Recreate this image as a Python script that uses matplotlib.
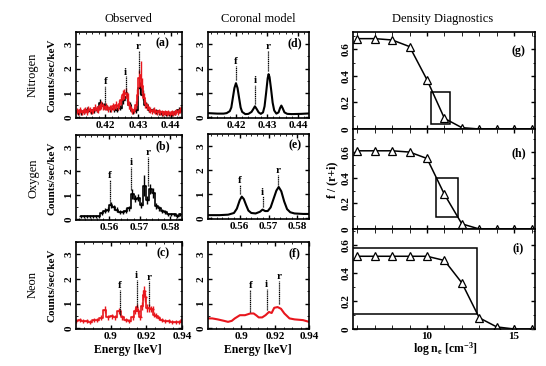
import numpy as np
import matplotlib.pyplot as plt
from matplotlib.ticker import MultipleLocator, FixedLocator, FixedFormatter
from matplotlib.patches import Rectangle

plt.rcParams['font.family'] = ['Liberation Serif', 'DejaVu Serif']
plt.rcParams['mathtext.fontset'] = 'custom'
plt.rcParams['mathtext.rm'] = 'Liberation Serif:bold'
plt.rcParams['mathtext.it'] = 'Liberation Serif:bold'
plt.rcParams['mathtext.bf'] = 'Liberation Serif:bold'
plt.rcParams['xtick.direction'] = 'in'
plt.rcParams['ytick.direction'] = 'in'
plt.rcParams['xtick.top'] = True
plt.rcParams['ytick.right'] = True
plt.rcParams['xtick.major.size'] = 3
plt.rcParams['ytick.major.size'] = 3
plt.rcParams['xtick.minor.size'] = 1.5
plt.rcParams['ytick.minor.size'] = 1.5
plt.rcParams['xtick.major.width'] = 1.0
plt.rcParams['ytick.major.width'] = 1.0
plt.rcParams['axes.linewidth'] = 1.2

RED = '#e8161d'

# ---------------- data ----------------
# Nitrogen observed, black histogram (bin centres 0.4115 + 0.001*k)
n_obs_x0, n_obs_dx = 0.4115, 0.001
n_obs_y = [0.2, 0.2, 0.25, 0.3, 0.25, 0.3, 0.35, 0.6, 0.45, 0.4, 0.35, 0.35, 0.3,
           0.4, 0.7, 0.85, 0.5, 0.25, 0.3, 1.2, 0.9, 0.5, 0.3, 0.3, 0.25, 0.2,
           0.15, 0.15, 0.15, 0.15, 0.2, 0.3, 0.35]
n_obs_err = [0.1, 0.1, 0.1, 0.12, 0.1, 0.12, 0.12, 0.15, 0.12, 0.12, 0.12, 0.12, 0.1,
             0.12, 0.15, 0.18, 0.12, 0.1, 0.12, 0.25, 0.2, 0.12, 0.1, 0.1, 0.1, 0.1,
             0.08, 0.08, 0.08, 0.08, 0.1, 0.12, 0.12]
# Nitrogen observed, red spectrum (bin centres 0.4113 + 0.0005*k)
n_red_x0, n_red_dx = 0.4113, 0.0005
n_red_y = [0.25, 0.2, 0.3, 0.2, 0.25, 0.3, 0.2, 0.35, 0.3, 0.25, 0.3, 0.4, 0.35, 0.3,
           0.45, 0.5, 0.45, 0.4, 0.45, 0.35,
           0.4, 0.35, 0.45, 0.4, 0.5, 0.45, 0.55,
           0.7, 0.9, 0.95, 1.0, 0.8, 0.5, 0.35, 0.25,
           0.3, 0.5, 0.9, 1.6, 1.75, 1.3, 0.8, 0.55,
           0.45, 0.35, 0.3, 0.25, 0.3, 0.25, 0.2, 0.25,
           0.2, 0.2, 0.15, 0.2, 0.15, 0.2, 0.15, 0.2, 0.15, 0.2, 0.25, 0.2, 0.3, 0.35, 0.4, 0.45]
n_red_err = [0.12, 0.1, 0.12, 0.1, 0.12, 0.12, 0.1, 0.12, 0.12, 0.1, 0.12, 0.15, 0.12, 0.12,
             0.15, 0.15, 0.15, 0.12, 0.15, 0.12,
             0.12, 0.12, 0.15, 0.12, 0.15, 0.15, 0.15,
             0.18, 0.2, 0.2, 0.2, 0.18, 0.15, 0.12, 0.1,
             0.12, 0.15, 0.25, 0.35, 0.55, 0.3, 0.2, 0.15,
             0.15, 0.12, 0.12, 0.1, 0.12, 0.1, 0.1, 0.1,
             0.1, 0.1, 0.08, 0.1, 0.08, 0.1, 0.08, 0.1, 0.08, 0.1, 0.1, 0.1, 0.12, 0.12, 0.15, 0.15]

# Oxygen observed, black histogram (bin centres 0.5505 + 0.001*k)
o_obs_x0, o_obs_dx = 0.5505, 0.001
o_obs_y = [0.12, 0.12, 0.12, 0.12, 0.12, 0.12, 0.12, 0.25, 0.35, 0.4, 0.6, 0.5, 0.4,
           0.3, 0.3, 0.35, 0.45, 1.05, 0.85, 0.9, 0.6, 1.4, 0.8, 1.25, 1.1, 0.55,
           0.45, 0.35, 0.3, 0.2, 0.2, 0.2, 0.15, 0.2]
o_obs_err = [0.05, 0.05, 0.05, 0.05, 0.05, 0.05, 0.05, 0.08, 0.1, 0.1, 0.12, 0.1, 0.1,
             0.08, 0.08, 0.1, 0.1, 0.2, 0.15, 0.15, 0.12, 0.45, 0.15, 0.2, 0.2, 0.12,
             0.1, 0.08, 0.08, 0.08, 0.08, 0.08, 0.08, 0.08]

# Neon observed, red spectrum
ne_obs_x = [0.8805, 0.8825, 0.8845, 0.8865, 0.8885, 0.8905, 0.8925, 0.8945, 0.8965, 0.8985,
            0.9005, 0.9025, 0.9045, 0.9065, 0.9085, 0.9105, 0.9125, 0.9135, 0.9145, 0.9155,
            0.9165, 0.9175, 0.9182, 0.9188, 0.9194, 0.9205, 0.9215, 0.9225, 0.9235, 0.9245,
            0.9255, 0.9270, 0.9285, 0.9305, 0.9325, 0.9345, 0.9365, 0.9385, 0.9400]
ne_obs_y = [0.30, 0.32, 0.28, 0.30, 0.27, 0.32, 0.35, 0.42, 0.75, 0.45,
            0.48, 0.45, 0.70, 0.45, 0.35, 0.30, 0.45, 0.70, 0.85, 0.70,
            0.45, 0.90, 1.35, 1.50, 1.25, 0.82, 0.82, 0.80, 0.78, 0.55,
            0.50, 0.40, 0.32, 0.30, 0.28, 0.27, 0.25, 0.27, 0.35]
ne_obs_err = [0.08, 0.08, 0.08, 0.08, 0.08, 0.08, 0.08, 0.1, 0.15, 0.1,
              0.1, 0.1, 0.12, 0.1, 0.08, 0.08, 0.1, 0.12, 0.15, 0.12,
              0.1, 0.15, 0.2, 0.2, 0.2, 0.15, 0.15, 0.12, 0.12, 0.1,
              0.1, 0.08, 0.08, 0.08, 0.08, 0.08, 0.08, 0.08, 0.1]

# Coronal model spectra
n_mod_x = [0.411, 0.414, 0.416, 0.417, 0.418, 0.4185, 0.419, 0.4195, 0.420, 0.4205, 0.421,
           0.4215, 0.422, 0.423, 0.424, 0.425, 0.4255, 0.4261, 0.4267, 0.4273, 0.428,
           0.4287, 0.4292, 0.4297, 0.4302, 0.4305, 0.4308, 0.4313, 0.4318, 0.4323, 0.433,
           0.4337, 0.4342, 0.4346, 0.435, 0.4356, 0.4365, 0.438, 0.441, 0.444]
n_mod_y = [0.17, 0.15, 0.15, 0.17, 0.25, 0.4, 0.8, 1.2, 1.4, 1.2, 0.8,
           0.4, 0.22, 0.13, 0.14, 0.22, 0.32, 0.45, 0.33, 0.2, 0.14,
           0.2, 0.45, 1.0, 1.6, 1.77, 1.65, 1.15, 0.6, 0.28, 0.15,
           0.2, 0.38, 0.48, 0.38, 0.2, 0.14, 0.13, 0.14, 0.16]
o_mod_x = [0.549, 0.553, 0.556, 0.558, 0.559, 0.5600, 0.5607, 0.5614, 0.5622, 0.563,
           0.564, 0.5655, 0.567, 0.5679, 0.5688, 0.5697, 0.5707, 0.5717, 0.5727, 0.5735,
           0.5744, 0.5754, 0.5764, 0.5775, 0.579, 0.582, 0.584]
o_mod_y = [0.13, 0.13, 0.15, 0.22, 0.4, 0.75, 0.9, 0.8, 0.55, 0.32,
           0.22, 0.2, 0.27, 0.36, 0.3, 0.3, 0.45, 0.8, 1.15, 1.3,
           1.12, 0.7, 0.38, 0.25, 0.2, 0.18, 0.18]
ne_mod_x = [0.8790, 0.8830, 0.8862, 0.8900, 0.8923, 0.8945, 0.8963, 0.8993, 0.9023, 0.9054,
            0.9074, 0.9090, 0.9104, 0.9124, 0.9144, 0.9164, 0.9180, 0.9195, 0.9215, 0.9235,
            0.9255, 0.9285, 0.9315, 0.9365, 0.9400]
ne_mod_y = [0.40, 0.40, 0.36, 0.30, 0.26, 0.30, 0.40, 0.53, 0.53, 0.60,
            0.60, 0.52, 0.44, 0.44, 0.53, 0.66, 0.62, 0.83, 0.86, 0.79,
            0.60, 0.40, 0.36, 0.33, 0.26]

# line markers: (name, energy, text height, line top, line bottom)
n_lines_obs = [('f', 0.4200, 1.45, 1.28, 0.5), ('i', 0.4262, 1.85, 1.68, 1.05), ('r', 0.4302, 2.9, 2.73, 1.8)]
o_lines_obs = [('f', 0.5602, 1.8, 1.62, 0.65), ('i', 0.5673, 2.35, 2.18, 1.2), ('r', 0.5728, 2.77, 2.6, 1.4)]
ne_lines_obs = [('f', 0.9051, 1.75, 1.57, 0.55), ('i', 0.9146, 2.14, 1.96, 0.85), ('r', 0.9215, 2.07, 1.9, 0.9)]
n_lines_mod = [('f', 0.4200, 2.3, 2.12, 1.55), ('i', 0.4261, 1.5, 1.32, 0.55), ('r', 0.4302, 2.9, 2.72, 1.9)]
o_lines_mod = [('f', 0.5600, 1.57, 1.4, 1.0), ('i', 0.5679, 1.09, 0.93, 0.45), ('r', 0.5734, 1.98, 1.8, 1.4)]
ne_lines_mod = [('f', 0.9054, 1.72, 1.55, 0.65), ('i', 0.9150, 1.78, 1.6, 0.75), ('r', 0.9222, 2.09, 1.9, 1.0)]

# density diagnostics
log_ne = [6, 7, 8, 9, 10, 11, 12, 13, 14, 15, 16]
ratio_n = [0.68, 0.68, 0.67, 0.62, 0.37, 0.08, 0.01, 0.0, 0.0, 0.0, 0.0]
ratio_o = [0.61, 0.61, 0.61, 0.60, 0.55, 0.27, 0.04, 0.0, 0.0, 0.0, 0.0]
ratio_ne = [0.52, 0.52, 0.52, 0.52, 0.52, 0.49, 0.33, 0.08, 0.015, 0.0, 0.0]
# measured ranges (log ne lo, hi, ratio lo, hi)
box_n = (10.2, 11.3, 0.04, 0.28)
box_o = (10.5, 11.8, 0.09, 0.40)
box_ne = (5.0, 12.85, 0.11, 0.58)

xlim_n = (0.411, 0.4435)
xlim_o = (0.549, 0.584)
xlim_ne = (0.8805, 0.940)
ticks_n = ([0.42, 0.43, 0.44], ['0.42', '0.43', '0.44'])
ticks_o = ([0.56, 0.57, 0.58], ['0.56', '0.57', '0.58'])
ticks_ne = ([0.9, 0.92, 0.94], ['0.9', '0.92', '0.94'])

# ---------------- figure ----------------
fig = plt.figure(figsize=(5.46, 3.66), dpi=100)

W, H = 546.0, 366.0
def add_ax(x0, y0, x1, y1):
    return fig.add_axes([x0 / W, 1 - y1 / H, (x1 - x0) / W, (y1 - y0) / H])

col1 = [add_ax(76, 32, 182, 118), add_ax(76, 135, 182, 220), add_ax(76, 242, 182, 329)]
col2 = [add_ax(208, 32, 309, 118), add_ax(208, 134, 309, 219), add_ax(208, 242, 309, 329)]
col3 = [add_ax(353, 32, 535, 129), add_ax(353, 129, 535, 229), add_ax(353, 229, 535, 329)]


def style_spec(ax, xlim, ticks, xminor, letter, lx):
    ax.set_xlim(xlim)
    ax.set_ylim(-0.03, 3.5)
    ax.xaxis.set_major_locator(FixedLocator(ticks[0]))
    ax.xaxis.set_major_formatter(FixedFormatter(ticks[1]))
    ax.xaxis.set_minor_locator(MultipleLocator(xminor))
    ax.yaxis.set_major_locator(MultipleLocator(1))
    ax.yaxis.set_minor_locator(MultipleLocator(0.5))
    ax.tick_params(labelsize=8, pad=2)
    for lab in ax.get_xticklabels() + ax.get_yticklabels():
        lab.set_fontweight('bold')
    plt.setp(ax.get_yticklabels(), rotation=90, va='center')
    ax.text(lx, 0.87, letter, transform=ax.transAxes, fontsize=8.5, fontweight='bold',
            ha='center', va='center')


def mark_lines(ax, lines):
    for name, e, ty, top, bot in lines:
        ax.plot([e, e], [bot, top], color='k', lw=0.9, ls=(0, (1, 0.5)))
        ax.text(e, ty, name, ha='center', va='center', fontsize=8, fontweight='bold')


def hist(ax, x0, dx, y, err, color, lw=1.2):
    x = x0 + dx * np.arange(len(y))
    ax.step(x, y, where='mid', color=color, lw=lw)
    ax.errorbar(x, y, yerr=err, xerr=dx / 2, fmt='none', ecolor=color, elinewidth=1.0)


# Observed
ax = col1[0]
hist(ax, n_obs_x0, n_obs_dx, n_obs_y, n_obs_err, 'k')
hist(ax, n_red_x0, n_red_dx, n_red_y, n_red_err, RED)
mark_lines(ax, n_lines_obs)
style_spec(ax, xlim_n, ticks_n, 0.002, '(a)', 0.82)

ax = col1[1]
hist(ax, o_obs_x0, o_obs_dx, o_obs_y, o_obs_err, 'k')
mark_lines(ax, o_lines_obs)
style_spec(ax, xlim_o, ticks_o, 0.002, '(b)', 0.82)

ax = col1[2]
ax.step(ne_obs_x, ne_obs_y, where='mid', color=RED, lw=1.2)
ax.errorbar(ne_obs_x, ne_obs_y, yerr=ne_obs_err, xerr=0.0008, fmt='none', ecolor=RED, elinewidth=1.0)
mark_lines(ax, ne_lines_obs)
style_spec(ax, xlim_ne, ticks_ne, 0.005, '(c)', 0.82)

# Coronal model
ax = col2[0]
ax.plot(n_mod_x, n_mod_y, color='k', lw=1.5)
mark_lines(ax, n_lines_mod)
style_spec(ax, xlim_n, ticks_n, 0.002, '(d)', 0.86)

ax = col2[1]
ax.plot(o_mod_x, o_mod_y, color='k', lw=1.5)
mark_lines(ax, o_lines_mod)
style_spec(ax, xlim_o, ticks_o, 0.002, '(e)', 0.86)

ax = col2[2]
ax.plot(ne_mod_x, ne_mod_y, color=RED, lw=1.5)
mark_lines(ax, ne_lines_mod)
style_spec(ax, xlim_ne, ticks_ne, 0.005, '(f)', 0.86)

# Density diagnostics
dens = [(ratio_n, box_n, (0, 0.73), '(g)', 0.80),
        (ratio_o, box_o, (0, 0.78), '(h)', 0.76),
        (ratio_ne, box_ne, (0, 0.715), '(i)', 0.81)]
for ax, (ratio, box, ylim, letter, ly) in zip(col3, dens):
    ax.plot(log_ne, ratio, color='k', lw=1.1, marker='^', ms=5.5, mfc='white', mec='k', mew=0.9)
    x0, x1, y0, y1 = box
    ax.add_patch(Rectangle((x0, y0), x1 - x0, y1 - y0, fill=False, ec='k', lw=1.1))
    ax.set_xlim(5.75, 16.2)
    ax.set_ylim(*ylim)
    ax.xaxis.set_major_locator(FixedLocator([10, 15]))
    ax.xaxis.set_minor_locator(MultipleLocator(1))
    ax.yaxis.set_major_locator(FixedLocator([0, 0.2, 0.4, 0.6]))
    ax.yaxis.set_major_formatter(FixedFormatter(['0', '0.2', '0.4', '0.6']))
    ax.yaxis.set_minor_locator(MultipleLocator(0.1))
    ax.tick_params(labelsize=8, pad=2)
    ax.tick_params(axis='x', which='minor', length=3)
    for lab in ax.get_xticklabels() + ax.get_yticklabels():
        lab.set_fontweight('bold')
    plt.setp(ax.get_yticklabels(), rotation=90, va='center')
    ax.text(0.91, ly, letter, transform=ax.transAxes, fontsize=8.5, fontweight='bold',
            ha='center', va='center')
    if ax is not col3[2]:
        ax.tick_params(axis='x', labelbottom=False)

# titles and labels
fig.text(128 / W, 1 - 19 / H, 'Observed', ha='center', va='center', fontsize=9)
fig.text(258 / W, 1 - 19 / H, 'Coronal model', ha='center', va='center', fontsize=9)
fig.text(443 / W, 1 - 19 / H, 'Density Diagnostics', ha='center', va='center', fontsize=9)

for name, yc in [('Nitrogen', 75), ('Oxygen', 178), ('Neon', 285)]:
    fig.text(33 / W, 1 - yc / H, name, rotation=90, ha='center', va='center', fontsize=9)
    fig.text(52 / W, 1 - yc / H, 'Counts/sec/keV', rotation=90, ha='center', va='center',
             fontsize=8, fontweight='bold')

fig.text(128 / W, 1 - 350 / H, 'Energy [keV]', ha='center', va='center', fontsize=8.5, fontweight='bold')
fig.text(258 / W, 1 - 350 / H, 'Energy [keV]', ha='center', va='center', fontsize=8.5, fontweight='bold')
fig.text(445 / W, 1 - 349 / H, r'log n$_e$ [cm$^{-3}$]', ha='center', va='center', fontsize=8.5,
         fontweight='bold')
fig.text(332 / W, 1 - 180 / H, 'f / (r+i)', rotation=90, ha='center', va='center', fontsize=8.5,
         fontweight='bold')

fig.savefig('out.png', dpi=100)
